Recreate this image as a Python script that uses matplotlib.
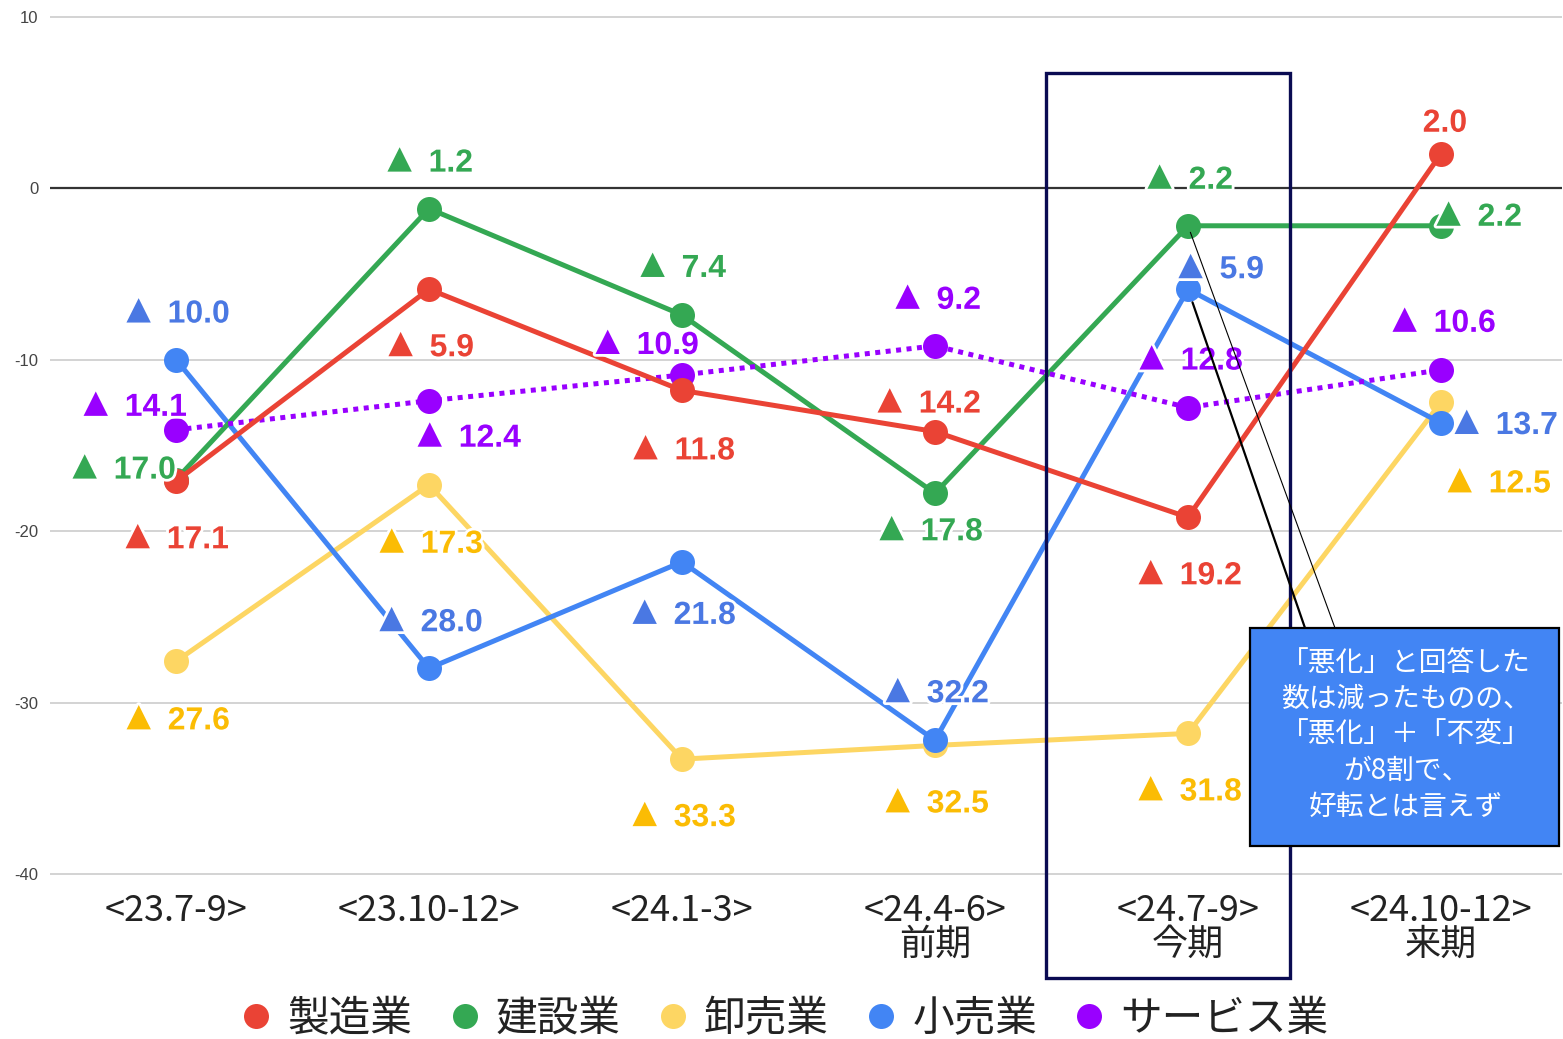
import matplotlib
matplotlib.use("Agg")
import matplotlib.pyplot as plt
import matplotlib.patheffects as pe
from matplotlib.lines import Line2D
from matplotlib.patches import Rectangle
from matplotlib.offsetbox import AnnotationBbox, HPacker, TextArea

plt.rcParams['font.family'] = ['Noto Sans CJK JP', 'DejaVu Sans']

# データ
periods = ['<23.7-9>', '<23.10-12>', '<24.1-3>', '<24.4-6>\n前期', '<24.7-9>\n今期', '<24.10-12>\n来期']
names = ['製造業', '建設業', '卸売業', '小売業', 'サービス業']
seizo = [-17.1, -5.9, -11.8, -14.2, -19.2, 2.0]
kensetsu = [-17.0, -1.2, -7.4, -17.8, -2.2, -2.2]
oroshi = [-27.6, -17.3, -33.3, -32.5, -31.8, -12.5]
kouri = [-10.0, -28.0, -21.8, -32.2, -5.9, -13.7]
service = [-14.1, -12.4, -10.9, -9.2, -12.8, -10.6]
note = '「悪化」と回答した\n数は減ったものの、\n「悪化」＋「不変」\nが8割で、\n好転とは言えず'

# 色
line_colors = ['#EA4335', '#34A853', '#FDD663', '#4285F4', '#9900FF']
text_colors = ['#EA4335', '#34A853', '#FBBC04', '#4A78E3', '#9900FF']

# ラベル位置 (ピクセル)
offsets = [
    [(-3, -56), (-2, -56), (-2, -58), (-10, 30), (-2, -56), (4, 30)],
    [(-56, 12), (-3, 48), (-3, 49), (-8, -36), (-2, 48), (34, 11)],
    [(-2, -57), (-2, -57), (-2, -56), (-2, -56), (-2, -56), (54, -79)],
    [(-2, 48), (-2, 48), (-2, -51), (-2, 49), (29, 22), (61, 0)],
    [(-45, 25), (36, -35), (-39, 32), (-1, 48), (-1, 49), (-1, 49)],
]

W, H = 1563, 1039
fig = plt.figure(figsize=(W / 100, H / 100), dpi=100)
ax = fig.add_axes([49.5 / W, 1 - 891.2 / H, (1562.4 - 49.5) / W, 891.8 / H])

x = list(range(len(periods)))
series = [seizo, kensetsu, oroshi, kouri, service]
zorders = [6, 4, 2, 3, 5]

for i, vals in enumerate(series):
    ls = (0, (1, 1.1)) if i == 4 else '-'
    ax.plot(x, vals, color=line_colors[i], lw=3.6, ls=ls, dash_capstyle='butt',
            marker='o', ms=18, markeredgewidth=0, zorder=zorders[i])

# データラベル (マイナスは▲表記)
halo = [pe.withStroke(linewidth=4, foreground='white')]
lab_font = ['Liberation Sans', 'DejaVu Sans']
for i, vals in enumerate(series):
    for j, v in enumerate(vals):
        num = TextArea(f'{abs(v):.1f}', textprops=dict(
            fontsize=23, fontweight='bold', family=lab_font, color=text_colors[i],
            path_effects=halo))
        parts = [num]
        if v < 0:
            tri = TextArea('▲', textprops=dict(
                fontsize=30, family=lab_font, color=text_colors[i], path_effects=halo))
            parts = [tri, num]
        box = HPacker(children=parts, align='baseline', pad=0, sep=6)
        dx, dy = offsets[i][j]
        ab = AnnotationBbox(box, (j, v), xybox=(dx, dy), boxcoords='offset pixels',
                            frameon=False, pad=0, box_alignment=(0.5, 0.5))
        ab.set_zorder(10)
        ax.add_artist(ab)

ax.set_xlim(-0.5, 5.48)
ax.set_ylim(-41, 11)
ax.set_yticks([10, 0, -10, -20, -30, -40])
ax.set_yticklabels(['10', '0', '-10', '-20', '-30', '-40'],
                   family=['Liberation Sans', 'DejaVu Sans'], fontsize=12, color='#444444')
ax.set_xticks(x)
ax.set_xticklabels(periods, fontsize=26, color='#222222', linespacing=0.92)
ax.tick_params(axis='both', length=0)
ax.tick_params(axis='y', pad=8)
ax.tick_params(axis='x', pad=1)
ax.grid(axis='y', color='#CCCCCC', lw=1.2, zorder=0)
ax.axhline(0, color='#333333', lw=1.6, zorder=1.8)
for sp in ax.spines.values():
    sp.set_visible(False)

# 今期の枠
ax.add_patch(Rectangle((3.439, -46.06), 0.964, 52.77, fill=False, ec='#0A0B52',
                       lw=2.4, clip_on=False, zorder=8))

# 吹き出し
fig.add_artist(Rectangle((1250 / W, 1 - 846 / H), 309 / W, 218 / H, transform=fig.transFigure,
                         fc='#4285F4', ec='black', lw=1.6, zorder=12))
fig.text(1406 / W, 1 - 735 / H, note, ha='center', va='center', color='white',
         fontsize=20, linespacing=1.26, zorder=13)
ax.annotate('', xy=(4, kouri[4]), xytext=(1305, H - 628), textcoords='figure pixels',
            arrowprops=dict(arrowstyle='-', color='black', lw=1.6, shrinkA=0, shrinkB=10),
            zorder=11)
ax.annotate('', xy=(4, kensetsu[4]), xytext=(1335, H - 628), textcoords='figure pixels',
            arrowprops=dict(arrowstyle='-', color='black', lw=0.8, shrinkA=0, shrinkB=5),
            zorder=11)

# 凡例
handles = [Line2D([], [], ls='', marker='o', ms=18, markeredgewidth=0, color=c)
           for c in line_colors]
fig.legend(handles, names, loc='center', bbox_to_anchor=(0.503, 0.019), ncol=5,
           frameon=False, fontsize=30, handlelength=0.6, handletextpad=0.45,
           columnspacing=0.95, borderpad=0, labelcolor='#222222')

fig.savefig('out.png', dpi=100)
